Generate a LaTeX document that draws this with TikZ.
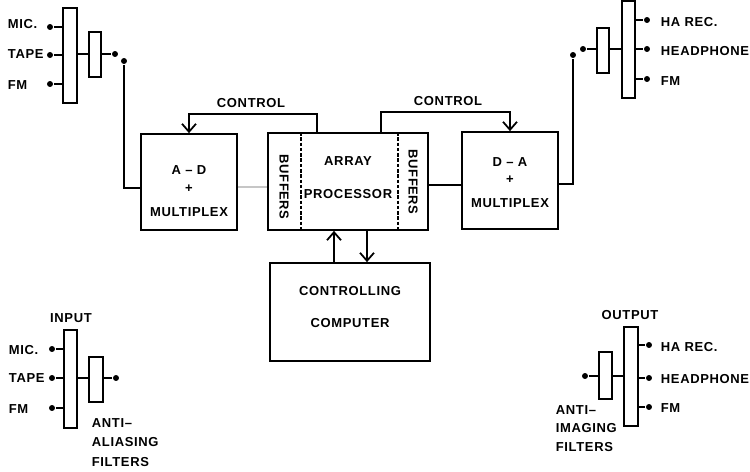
\documentclass[tikz,border=0pt]{standalone}
\usepackage{fontspec}
\setmainfont{Liberation Sans}[LetterSpace=5]
\usetikzlibrary{arrows.meta}
\begin{document}
\begin{tikzpicture}[x=0.2mm,y=-0.2mm,line width=1pt,
    lbl/.style={font=\bfseries\fontsize{7.4}{9}\selectfont,inner sep=0pt},
    blk/.style={draw,inner sep=0pt},
    sz/.style 2 args={minimum width=#1*0.2mm,minimum height=#2*0.2mm},
    pin/.style={circle,fill,inner sep=0pt,minimum size=3.4pt},
    arr/.style={-{Straight Barb[length=1.6mm,width=2.8mm]}}]
  \useasboundingbox (0,0) rectangle (750,471);

  % top left: inputs
  \node[blk,sz={14}{95}] (lbar) at (70,55.5) {};
  \node[blk,sz={12}{45}] (lfilt) at (95,54.5) {};
  \node[pin] (lmic) at (50,27) {};
  \node[pin] (ltape) at (50,55) {};
  \node[pin] (lfm) at (50,84) {};
  \node[pin] (lout) at (115,54) {};
  \node[pin] (lsrc) at (124,61) {};
  \node[lbl,anchor=west] (lmict) at (7,24) {MIC.};
  \node[lbl,anchor=west] (ltapet) at (7,54) {TAPE};
  \node[lbl,anchor=west] (lfmt) at (7,85) {FM};
  \draw (lmic) -- (lmic -| lbar.west);
  \draw (ltape) -- (ltape -| lbar.west);
  \draw (lfm) -- (lfm -| lbar.west);
  \draw (lbar.east |- lout) -- (lfilt.west |- lout);
  \draw (lfilt.east |- lout) -- (lout);

  % top right: outputs
  \node[blk,sz={13}{97}] (rbar) at (628.5,49.5) {};
  \node[blk,sz={12}{45}] (rfilt) at (603,50.5) {};
  \node[pin] (rha) at (647,20) {};
  \node[pin] (rhp) at (647,49) {};
  \node[pin] (rfm) at (647,79) {};
  \node[pin] (rin) at (583,49) {};
  \node[pin] (rsrc) at (573,55) {};
  \node[lbl,anchor=west] (rhat) at (660,22) {HA REC.};
  \node[lbl,anchor=west] (rhpt) at (660,51) {HEADPHONE};
  \node[lbl,anchor=west] (rfmt) at (660,81) {FM};
  \draw (rbar.east |- rha) -- (rha);
  \draw (rbar.east |- rhp) -- (rhp);
  \draw (rbar.east |- rfm) -- (rfm);
  \draw (rin) -- (rfilt.west |- rin);
  \draw (rfilt.east |- rin) -- (rbar.west |- rin);

  % middle blocks
  \node[blk,sz={96}{96}] (ad) at (189,182) {};
  \node[lbl] (adt1) at (189,170) {A – D};
  \node[lbl] (adt2) at (189,189) {+};
  \node[lbl] (adt3) at (189,212) {MULTIPLEX};

  \node[blk,sz={160}{97}] (ap) at (348,181.5) {};
  \draw[line width=0.8pt,dash pattern=on 2pt off 1pt] (301,0 |- ap.north) -- (301,0 |- ap.south);
  \draw[line width=0.8pt,dash pattern=on 2pt off 1pt] (398,0 |- ap.north) -- (398,0 |- ap.south);
  \node[lbl,rotate=-90] (lbuf) at (284,187) {BUFFERS};
  \node[lbl,rotate=-90] (rbuf) at (413,182) {BUFFERS};
  \node[lbl] (apt1) at (348,161) {ARRAY};
  \node[lbl] (apt2) at (348,194) {PROCESSOR};

  \node[blk,sz={96}{97}] (da) at (510,180.5) {};
  \node[lbl] (dat1) at (510,162) {D – A};
  \node[lbl] (dat2) at (510,180) {+};
  \node[lbl] (dat3) at (510,203) {MULTIPLEX};

  \node[blk,sz={160}{98}] (cc) at (350,312) {};
  \node[lbl] (cct1) at (350,291) {CONTROLLING};
  \node[lbl] (cct2) at (350,323) {COMPUTER};

  \node[lbl] (ctl1) at (251,103) {CONTROL};
  \node[lbl] (ctl2) at (448,101) {CONTROL};

  \draw (lsrc) |- (ad.west |- 0,188);
  \draw[gray!45] (ad.east |- 0,187) -- (ap.west |- 0,187);
  \draw (ap.east |- 0,185) -- (da.west |- 0,185);
  \draw (da.east |- 0,184) -| (rsrc);
  \draw[arr] (317,0 |- ap.north) -- (317,114) -| (ad.north);
  \draw[arr] (381,0 |- ap.north) -- (381,112) -| (da.north);
  \draw[arr] (334,0 |- cc.north) -- (334,0 |- ap.south);
  \draw[arr] (367,0 |- ap.south) -- (367,0 |- cc.north);

  % bottom left: input legend
  \node[lbl] (inp) at (71,318) {INPUT};
  \node[blk,sz={13}{98}] (ibar) at (70.5,379) {};
  \node[blk,sz={14}{45}] (ifilt) at (96,379.5) {};
  \node[pin] (imic) at (52,349) {};
  \node[pin] (itape) at (52,378) {};
  \node[pin] (ifm) at (52,408) {};
  \node[pin] (iout) at (116,378) {};
  \node[lbl,anchor=west] (imict) at (8,350) {MIC.};
  \node[lbl,anchor=west] (itapet) at (8,378) {TAPE};
  \node[lbl,anchor=west] (ifmt) at (8,409) {FM};
  \node[lbl,anchor=west] (iaa1) at (91,423) {ANTI–};
  \node[lbl,anchor=west] (iaa2) at (91,442) {ALIASING};
  \node[lbl,anchor=west] (iaa3) at (91,462) {FILTERS};
  \draw (imic) -- (imic -| ibar.west);
  \draw (itape) -- (itape -| ibar.west);
  \draw (ifm) -- (ifm -| ibar.west);
  \draw (ibar.east |- iout) -- (ifilt.west |- iout);
  \draw (ifilt.east |- iout) -- (iout);

  % bottom right: output legend
  \node[lbl] (outp) at (630,315) {OUTPUT};
  \node[blk,sz={14}{99}] (obar) at (631,376.5) {};
  \node[blk,sz={13}{47}] (ofilt) at (605.5,375.5) {};
  \node[pin] (oha) at (649,345) {};
  \node[pin] (ohp) at (649,378) {};
  \node[pin] (ofm) at (649,407) {};
  \node[pin] (oin) at (585,376) {};
  \node[lbl,anchor=west] (ohat) at (660,347) {HA REC.};
  \node[lbl,anchor=west] (ohpt) at (660,379) {HEADPHONE};
  \node[lbl,anchor=west] (ofmt) at (660,408) {FM};
  \node[lbl,anchor=west] (oai1) at (555,410) {ANTI–};
  \node[lbl,anchor=west] (oai2) at (555,428) {IMAGING};
  \node[lbl,anchor=west] (oai3) at (555,447) {FILTERS};
  \draw (obar.east |- oha) -- (oha);
  \draw (obar.east |- ohp) -- (ohp);
  \draw (obar.east |- ofm) -- (ofm);
  \draw (oin) -- (ofilt.west |- oin);
  \draw (ofilt.east |- oin) -- (obar.west |- oin);
\end{tikzpicture}
\end{document}
